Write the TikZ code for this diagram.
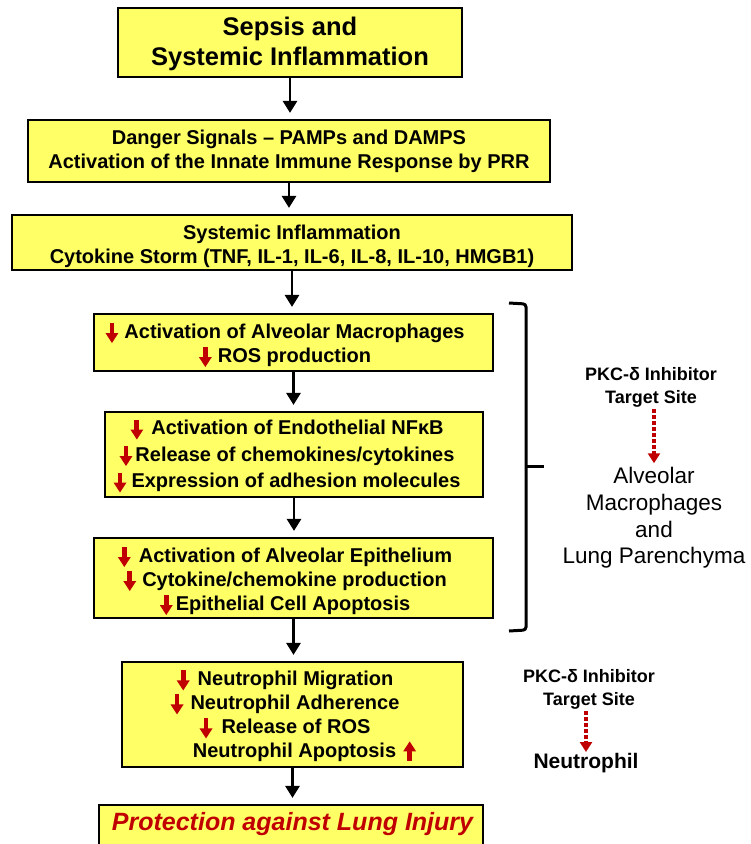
\documentclass[tikz,border=0pt]{standalone}
\usepackage{fontspec}
\setmainfont{Liberation Sans}
\usetikzlibrary{arrows.meta}
\definecolor{boxyellow}{RGB}{255,255,102}
\definecolor{arrred}{RGB}{192,0,0}
\newcommand\downar[1]{\tikz[baseline=0pt]{\fill[arrred] (-2.4pt,15pt) rectangle (2.4pt,3pt); \fill[arrred] (-6.5pt,5pt) -- (6.5pt,5pt) -- (0pt,-5pt) -- cycle;}\hspace{#1pt}}
\newcommand\upar[1]{\hspace{#1pt}\tikz[baseline=0pt]{\fill[arrred] (-2.4pt,-4pt) rectangle (2.4pt,8pt); \fill[arrred] (-6.5pt,6pt) -- (6.5pt,6pt) -- (0pt,16pt) -- cycle;}}
\begin{document}
\begin{tikzpicture}[x=1pt,y=1pt,
  box/.style={draw=black, line width=2.2pt, fill=boxyellow, inner sep=0pt},
  txt/.style={align=center, inner sep=0pt, font=\bfseries\fontsize{20}{24}\selectfont},
  flow/.style={-{Triangle[width=14pt,length=12pt]}, line width=2.8pt, shorten >=6pt},
  dotarr/.style={-{Triangle[width=12pt,length=10pt]}, draw=arrred, line width=3.5pt, dash pattern=on 3.5pt off 2.5pt},
  brace/.style={line width=3pt, rounded corners=3pt},
  side/.style={align=center, inner sep=0pt}]
\clip (0,0) rectangle (751,-844);
\fill[white] (0,0) rectangle (751,-844);
% boxes
\node[box, minimum width=344pt, minimum height=69pt] (b1) at (290,-42.5) {};
\node[box, minimum width=522pt, minimum height=62pt] (b2) at (289,-151) {};
\node[box, minimum width=560pt, minimum height=55pt] (b3) at (292,-242.5) {};
\node[box, minimum width=399pt, minimum height=57pt] (b4) at (293.5,-342.5) {};
\node[box, minimum width=378pt, minimum height=85pt] (b5) at (294,-454.5) {};
\node[box, minimum width=399pt, minimum height=80pt] (b6) at (293.5,-578) {};
\node[box, minimum width=341pt, minimum height=105pt] (b7) at (292.5,-714.5) {};
\node[box, minimum width=384pt, minimum height=76pt] (b8) at (291,-843) {};
% texts
\node[txt, font=\bfseries\fontsize{25.5}{30}\selectfont] (t1) at (290,-44) {Sepsis and\\Systemic Inflammation};
\node[txt] (t2) at (289,-151) {Danger Signals -- PAMPs and DAMPS\\Activation of the Innate Immune Response by PRR};
\node[txt] (t3) at (292,-246) {Systemic Inflammation\\Cytokine Storm (TNF, IL-1, IL-6, IL-8, IL-10, HMGB1)};
\node[txt] (t4) at (285,-345) {\downar{6}Activation of Alveolar Macrophages\\\downar{6}ROS production};
\node[txt, font=\bfseries\fontsize{20}{26.5}\selectfont] (t5) at (287,-456) {\downar{8}Activation of Endothelial NF\symbol{"03BA}B\\\downar{3}Release of chemokines/cytokines\\\downar{5}Expression of adhesion molecules};
\node[txt] (t6) at (285,-581) {\downar{8}Activation of Alveolar Epithelium\\\downar{6}Cytokine/chemokine production\\\downar{3}Epithelial Cell Apoptosis};
\node[txt] (t7) at (285,-716) {\downar{8}Neutrophil Migration\\\downar{7}Neutrophil Adherence\\\downar{9}Release of ROS\\\hspace*{39pt}Neutrophil Apoptosis\upar{7}};
\node[txt, font=\bfseries\itshape\fontsize{25}{30}\selectfont, text=arrred] (t8) at (292.5,-824) {Protection against Lung Injury};
% connectors
\draw[flow] (b1.south) -- (b1.south |- b2.north);
\draw[flow] (b2.south) -- (b2.south |- b3.north);
\draw[flow] (b3.south) -- (b3.south |- b4.north);
\draw[flow] (b4.south) -- (b4.south |- b5.north);
\draw[flow] (b5.south) -- (b5.south |- b6.north);
\draw[flow] (b6.south) -- (b6.south |- b7.north);
\draw[flow] (b7.south) -- (b7.south |- b8.north);
% brace
\draw[brace] (509,-303) -- (526,-304) -- (526,-630) -- (509,-631);
\draw[brace] (526,-466) -- (544,-466);
% right side labels
\node[side, font=\bfseries\fontsize{18}{23}\selectfont] (pkc1) at (651,-387) {PKC-\symbol{"03B4} Inhibitor\\Target Site};
\node[side, font=\fontsize{22.5}{26.7}\selectfont] (alv) at (654,-518) {Alveolar\\Macrophages\\and\\Lung Parenchyma};
\draw[dotarr, shorten <=2pt, shorten >=4pt] (alv.north |- pkc1.south) -- (alv.north);
\node[side, font=\bfseries\fontsize{18}{23}\selectfont] (pkc2) at (589,-689) {PKC-\symbol{"03B4} Inhibitor\\Target Site};
\node[side, font=\bfseries\fontsize{21}{25}\selectfont] (neu) at (586,-763) {Neutrophil};
\draw[dotarr, shorten <=2pt, shorten >=1pt] (neu.north |- pkc2.south) -- (neu.north);
\end{tikzpicture}
\end{document}
